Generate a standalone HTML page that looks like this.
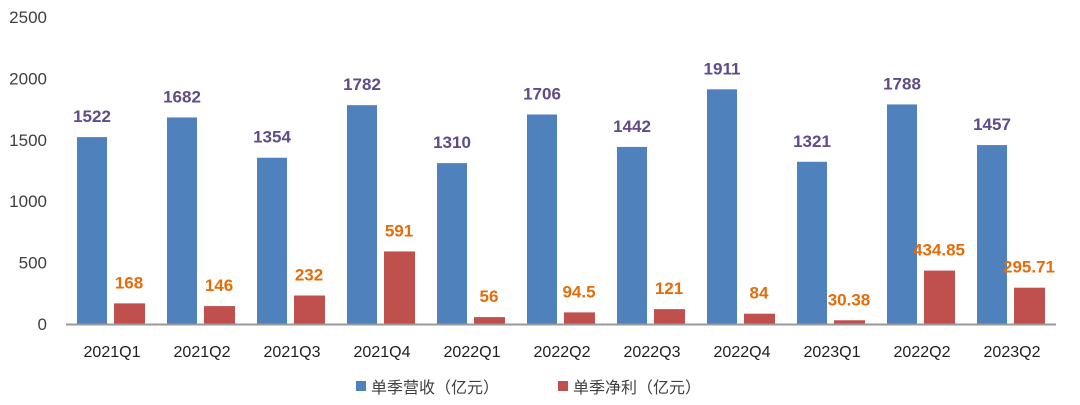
<!DOCTYPE html>
<html><head><meta charset="utf-8"><style>
body{margin:0;background:#fff;}
svg{display:block;font-family:"Liberation Sans","Noto Sans CJK SC",sans-serif;}
</style></head><body>
<svg width="1080" height="405">
<g id="yaxis"></g>
<g id="bars"></g>
<g id="xaxis"></g>
<g>
  <g>
    <rect x="356" y="381" width="10" height="10" fill="#4f81bd"/>
    <text x="371" y="393" font-size="16" fill="#404040">单季营收（亿元）</text>
  </g>
  <g>
    <rect x="558" y="381" width="10" height="10" fill="#c0504d"/>
    <text x="573" y="393" font-size="16" fill="#404040">单季净利（亿元）</text>
  </g>
</g>
</svg>
<script>
const categories=["2021Q1","2021Q2","2021Q3","2021Q4","2022Q1","2022Q2","2022Q3","2022Q4","2023Q1","2022Q2","2023Q2"];
const revenue=[1522,1682,1354,1782,1310,1706,1442,1911,1321,1788,1457];
const profit=[168,146,232,591,56,94.5,121,84,30.38,434.85,295.71];
const profitLabels=["168","146","232","591","56","94.5","121","84","30.38","434.85","295.71"];
const yTicks=[0,500,1000,1500,2000,2500];
const NS="http://www.w3.org/2000/svg";
const y0=324,yMax=2500,yTop=17,x0=66,step=90;
const y=v=>y0-(v/yMax)*(y0-yTop);
const x=i=>x0+i*step;
function mk(tag,attrs,parent){const e=document.createElementNS(NS,tag);for(const k in attrs)e.setAttribute(k,attrs[k]);parent.appendChild(e);return e;}
const ya=document.getElementById('yaxis'),bars=document.getElementById('bars'),xa=document.getElementById('xaxis');
yTicks.forEach(t=>{const e=mk('text',{x:47,y:y(t)+6,'font-size':17,fill:'#404040','text-anchor':'end'},ya);e.textContent=t;

});
categories.forEach((c,i)=>{
 const b=mk('rect',{x:x(i)+11,y:y(revenue[i]),width:30,height:y0-y(revenue[i]),fill:'#4f81bd'},bars);
 
 
 const r=mk('rect',{x:x(i)+48,y:y(profit[i]),width:31,height:y0-y(profit[i]),fill:'#c0504d'},bars);
 
 
 const t1=mk('text',{x:x(i)+26,y:y(revenue[i])-15,'font-size':17,'font-weight':'bold',fill:'#5f4b8b','text-anchor':'middle'},bars);
 t1.textContent=revenue[i];
 
 
 const t2=mk('text',{x:x(i)+63,y:y(profit[i])-15,'font-size':17,'font-weight':'bold',fill:'#e46c0a','text-anchor':'middle'},bars);
 t2.textContent=profitLabels[i];
 
 
 const xl=mk('text',{x:x(i)+46,y:357,'font-size':16,fill:'#202020','text-anchor':'middle'},xa);
 xl.textContent=c;
 
 
});
const ax=mk('line',{x1:x0,x2:x(categories.length),y1:y0+0.5,y2:y0+0.5,stroke:'#999','stroke-width':2},xa);


</script>
</body></html>
